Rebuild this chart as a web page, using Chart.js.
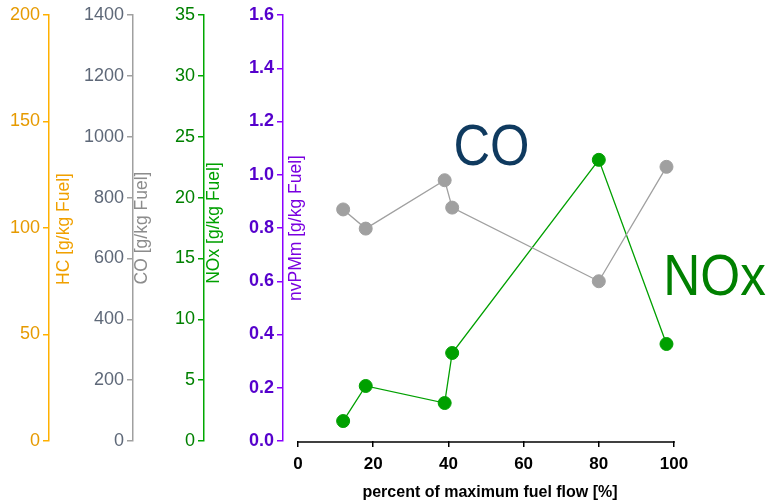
<!DOCTYPE html>
<html>
<head>
<meta charset="utf-8">
<script src="https://cdn.jsdelivr.net/npm/chart.js@4/dist/chart.umd.min.js"></script>
<style>
  html, body { margin: 0; padding: 0; background: #ffffff; }
  #wrap { width: 769px; height: 503px; position: relative; }
</style>
</head>
<body>
<div id="wrap"><canvas id="c" width="769" height="503"></canvas></div>
<script>
// ---- data ----
const fuelFlow = [12, 18, 39, 41, 80, 98];           // percent of maximum fuel flow
const coValues = [761, 698, 857, 767, 525, 901];     // CO [g/kg Fuel]
const noxValues = [1.64, 4.52, 3.12, 7.23, 23.1, 7.97]; // NOx [g/kg Fuel]

const xTicks = [0, 20, 40, 60, 80, 100];
const hcTicks = [0, 50, 100, 150, 200];
const coTicks = [0, 200, 400, 600, 800, 1000, 1200, 1400];
const noxTicks = [0, 5, 10, 15, 20, 25, 30, 35];
const pmTicks = [0.0, 0.2, 0.4, 0.6, 0.8, 1.0, 1.2, 1.4, 1.6];

const xTitle = 'percent of maximum fuel flow [%]';
const axisTitles = {
  yHC: 'HC [g/kg Fuel]',
  yCO: 'CO [g/kg Fuel]',
  yNOx: 'NOx [g/kg Fuel]',
  yPM: 'nvPMm [g/kg Fuel]'
};

// ---- styling ----
const FONT = "'Liberation Sans', Arial, sans-serif";
const axisStyle = {
  yHC:  { line: '#ffb000', tick: '#e69a00', title: '#f0a000', width: 49, weight: 3, dx: 15.5, dy: 229 },
  yCO:  { line: '#a0a0a0', tick: '#5e6878', title: '#8c8c8c', width: 84, weight: 2, dx: 9.5,  dy: 228 },
  yNOx: { line: '#00a800', tick: '#008000', title: '#00a000', width: 71, weight: 1, dx: 10.5, dy: 223 },
  yPM:  { line: '#8a00ff', tick: '#5500cc', title: '#7a00e0', width: 79, weight: 0, dx: 13,   dy: 228 }
};
const tickArrays = { yHC: hcTicks, yCO: coTicks, yNOx: noxTicks, yPM: pmTicks };
const ranges = { yHC: [0, 200], yCO: [0, 1400], yNOx: [0, 35], yPM: [0, 1.6] };

function yScale(id) {
  const s = axisStyle[id];
  return {
    type: 'linear',
    position: 'left',
    weight: s.weight,
    min: ranges[id][0],
    max: ranges[id][1],
    afterBuildTicks: sc => { sc.ticks = tickArrays[id].map(v => ({ value: v })); },
    afterFit: sc => { sc.width = s.width; },
    ticks: {
      color: s.tick,
      padding: 3,
      font: { family: FONT, size: 18, weight: id === 'yPM' ? 'bold' : 'normal' },
      callback: v => id === 'yPM' ? Number(v).toFixed(1) : String(v)
    },
    grid: { drawOnChartArea: false, color: s.line, tickLength: 6, lineWidth: 1.5 },
    border: { display: true, color: s.line, width: 1.5 }
  };
}

const overlayPlugin = {
  id: 'overlay',
  afterDraw(chart) {
    const ctx = chart.ctx;
    const xs = chart.scales.x;
    const area = chart.chartArea;
    ctx.save();
    // x axis line from 0 to 100
    ctx.strokeStyle = '#000000';
    ctx.lineWidth = 1.5;
    ctx.beginPath();
    const yLine = area.bottom + 1;
    ctx.moveTo(xs.getPixelForValue(xTicks[0]) - 0.75, yLine);
    ctx.lineTo(xs.getPixelForValue(xTicks[xTicks.length - 1]) + 0.75, yLine);
    ctx.stroke();

    // x title
    ctx.fillStyle = '#000000';
    ctx.font = 'bold 16px ' + FONT;
    ctx.textAlign = 'center';
    ctx.textBaseline = 'middle';
    ctx.fillText(xTitle, (xs.getPixelForValue(0) + xs.getPixelForValue(100)) / 2 + 4, 493);

    // y titles (to the right of each axis line)
    Object.keys(axisTitles).forEach(id => {
      const sc = chart.scales[id];
      const s = axisStyle[id];
      ctx.save();
      ctx.translate(sc.right + s.dx, s.dy);
      ctx.rotate(-Math.PI / 2);
      ctx.fillStyle = s.title;
      ctx.font = '17.5px ' + FONT;
      ctx.textAlign = 'center';
      ctx.textBaseline = 'middle';
      ctx.fillText(axisTitles[id], 0, 0);
      ctx.restore();
    });

    // series labels
    ctx.textAlign = 'center';
    ctx.textBaseline = 'alphabetic';
    ctx.font = '58px ' + FONT;
    ctx.save();
    ctx.translate(491.5, 165);
    ctx.scale(0.875, 1);
    ctx.fillStyle = '#0f3a5f';
    ctx.fillText('CO', 0, 0);
    ctx.restore();
    ctx.save();
    ctx.translate(714.5, 295);
    ctx.scale(0.885, 1);
    ctx.fillStyle = '#008000';
    ctx.fillText('NOx', 0, 0);
    ctx.restore();
    ctx.restore();
  }
};

new Chart(document.getElementById('c'), {
  type: 'line',
  data: {
    datasets: [
      {
        label: 'CO',
        yAxisID: 'yCO',
        data: fuelFlow.map((x, i) => ({ x: x, y: coValues[i] })),
        borderColor: '#a0a0a0',
        backgroundColor: '#a0a0a0',
        borderWidth: 1.3,
        pointRadius: 6.5,
        pointBorderWidth: 1,
        pointBackgroundColor: '#a0a0a0',
        pointBorderColor: '#a0a0a0',
        clip: false,
        tension: 0
      },
      {
        label: 'NOx',
        yAxisID: 'yNOx',
        data: fuelFlow.map((x, i) => ({ x: x, y: noxValues[i] })),
        borderColor: '#00a000',
        backgroundColor: '#00a000',
        borderWidth: 1.3,
        pointRadius: 6.5,
        pointBorderWidth: 1,
        pointBackgroundColor: '#00a000',
        pointBorderColor: '#00a000',
        clip: false,
        tension: 0
      }
    ]
  },
  options: {
    responsive: false,
    animation: false,
    layout: { padding: { top: 15, right: 95, left: 0, bottom: 0 } },
    plugins: { legend: { display: false }, tooltip: { enabled: false } },
    scales: {
      x: {
        type: 'linear',
        position: 'bottom',
        min: -4,
        max: 100,
        afterBuildTicks: sc => { sc.ticks = xTicks.map(v => ({ value: v })); },
        afterFit: sc => { sc.height = 62; },
        ticks: { color: '#000000', padding: 7, font: { family: FONT, size: 17, weight: 'bold' } },
        grid: { drawOnChartArea: false, color: '#000000', tickLength: 6, lineWidth: 1.5 },
        border: { display: false }
      },
      yHC: yScale('yHC'),
      yCO: yScale('yCO'),
      yNOx: yScale('yNOx'),
      yPM: yScale('yPM')
    }
  },
  plugins: [overlayPlugin]
});
</script>
</body>
</html>
